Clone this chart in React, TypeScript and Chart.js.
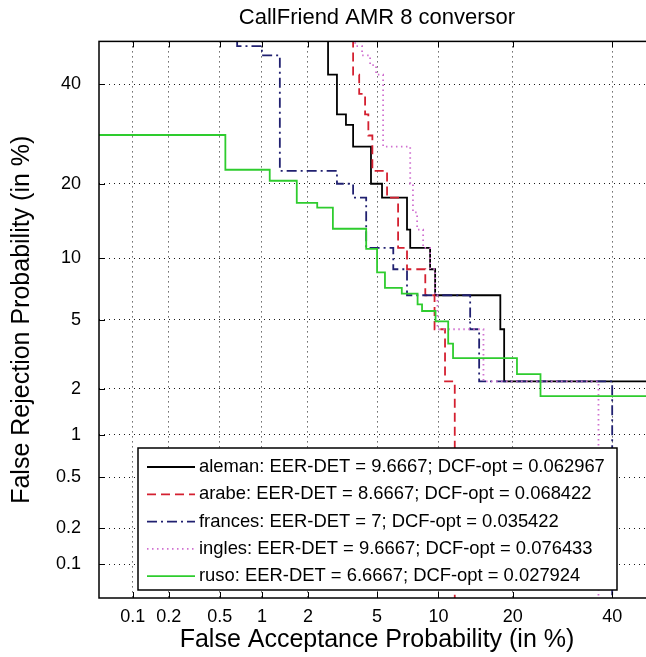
import React, { useEffect, useRef } from 'react';
import { Chart, registerables, Scale } from 'chart.js';

const TITLE = 'CallFriend AMR 8 conversor';
const X_LABEL = 'False Acceptance Probability (in %)';
const Y_LABEL = 'False Rejection Probability (in %)';
const X_TICKS = [0.1, 0.2, 0.5, 1, 2, 5, 10, 20, 40];
const Y_TICKS = [0.1, 0.2, 0.5, 1, 2, 5, 10, 20, 40];
const AXIS_MIN = 0.05;
const AXIS_MAX = 50;

const SERIES_NAMES = ['aleman', 'arabe', 'frances', 'ingles', 'ruso'];
const EER_DET = ['9.6667', '8.6667', '7', '9.6667', '6.6667'];
const DCF_OPT = ['0.062967', '0.068422', '0.035422', '0.076433', '0.027924'];

// Step points: x = false acceptance (%) where the curve drops, y = new false rejection (%)
const ALEMAN_FA = [0.05, 2.65, 2.99, 3.37, 3.7, 4.64, 5.31, 7.11, 7.37, 9.16, 9.66, 18.0, 18.6, 50];
const ALEMAN_FR = [60, 42.2, 33.3, 31.1, 26.7, 20.0, 17.8, 13.3, 11.1, 8.9, 6.67, 4.44, 2.22, 2.22];

const ARABE_FA = [0.05, 3.7, 4.0, 4.31, 4.49, 4.72, 5.64, 6.42, 7.11, 8.7, 9.6, 10.7, 11.8];
const ARABE_FR = [60, 42.2, 37.8, 33.3, 28.9, 22.2, 17.8, 11.1, 8.9, 6.67, 4.44, 2.22, 0.01];

const FRANCES_FA = [0.05, 0.67, 1.0, 1.32, 2.99, 3.7, 4.37, 6.07, 7.11, 13.7, 14.9, 40];
const FRANCES_FR = [60, 48.9, 46.7, 22.2, 20.0, 17.8, 11.1, 8.9, 6.67, 4.44, 2.22, 0.01];

const INGLES_FA = [0.05, 3.8, 4.15, 4.59, 4.94, 5.38, 7.37, 7.6, 7.96, 8.5, 9.16, 9.66, 9.9, 15.5, 36.9];
const INGLES_FR = [60, 48.9, 46.7, 44.4, 42.2, 26.7, 20.0, 15.6, 13.3, 11.1, 8.9, 6.67, 4.44, 2.22, 0.01];

const RUSO_FA = [0.05, 0.55, 1.13, 1.7, 2.28, 2.83, 4.37, 5.0, 5.5, 6.7, 8.0, 8.4, 9.7, 11.05, 11.6, 20.7, 24.9, 50];
const RUSO_FR = [29, 22.4, 20.5, 17.0, 16.3, 13.4, 11.0, 8.6, 7.25, 6.8, 6.0, 5.55, 4.9, 3.7, 3.06, 2.46, 1.8, 1.8];

const SERIES_FA = [ALEMAN_FA, ARABE_FA, FRANCES_FA, INGLES_FA, RUSO_FA];
const SERIES_FR = [ALEMAN_FR, ARABE_FR, FRANCES_FR, INGLES_FR, RUSO_FR];
const SERIES_COLORS = ['#000000', '#d42030', '#202070', '#d070d0', '#2ecc2e'];
const SERIES_DASH = [[], [9, 5], [10, 4, 2, 4], [1.5, 3.5], []];

function probit(p: number): number {
  const a = [-3.969683028665376e1, 2.209460984245205e2, -2.759285104469687e2, 1.38357751867269e2, -3.066479806614716e1, 2.506628277459239];
  const b = [-5.447609879822406e1, 1.615858368580409e2, -1.556989798598866e2, 6.680131188771972e1, -1.328068155288572e1];
  const c = [-7.784894002430293e-3, -3.223964580411365e-1, -2.400758277161838, -2.549732539343734, 4.374664141464968, 2.938163982698783];
  const d = [7.784695709041462e-3, 3.224671290700398e-1, 2.445134137142996, 3.754408661907416];
  const pl = 0.02425;
  const ph = 1 - pl;
  if (p <= 0) return -10;
  if (p >= 1) return 10;
  let q: number, r: number;
  if (p < pl) {
    q = Math.sqrt(-2 * Math.log(p));
    return (((((c[0] * q + c[1]) * q + c[2]) * q + c[3]) * q + c[4]) * q + c[5]) / ((((d[0] * q + d[1]) * q + d[2]) * q + d[3]) * q + 1);
  }
  if (p <= ph) {
    q = p - 0.5;
    r = q * q;
    return ((((((a[0] * r + a[1]) * r + a[2]) * r + a[3]) * r + a[4]) * r + a[5]) * q) / (((((b[0] * r + b[1]) * r + b[2]) * r + b[3]) * r + b[4]) * r + 1);
  }
  q = Math.sqrt(-2 * Math.log(1 - p));
  return -(((((c[0] * q + c[1]) * q + c[2]) * q + c[3]) * q + c[4]) * q + c[5]) / ((((d[0] * q + d[1]) * q + d[2]) * q + d[3]) * q + 1);
}

function normCdf(z: number): number {
  const t = 1 / (1 + 0.3275911 * Math.abs(z) / Math.SQRT2);
  const y = 1 - (((((1.061405429 * t - 1.453152027) * t) + 1.421413741) * t - 0.284496736) * t + 0.254829592) * t * Math.exp(-(z * z) / 2);
  return z >= 0 ? 0.5 * (1 + y) : 0.5 * (1 - y);
}

class ProbitScale extends (Scale as any) {
  static id = 'probit';
  static defaults = {};
  determineDataLimits() {
    this.min = AXIS_MIN;
    this.max = AXIS_MAX;
  }
  buildTicks() {
    const vals = this.isHorizontal() ? X_TICKS : Y_TICKS;
    return vals.map((v) => ({ value: v }));
  }
  getLabelForValue(v: number) {
    return String(v);
  }
  configure() {
    super.configure();
    this._pmin = probit(this.min / 100);
    this._pmax = probit(this.max / 100);
  }
  getPixelForValue(v: number) {
    const z = probit(Math.max(v, 1e-6) / 100);
    return this.getPixelForDecimal((z - this._pmin) / (this._pmax - this._pmin));
  }
  getPixelForTick(i: number) {
    return this.getPixelForValue(this.ticks[i].value);
  }
  getValueForPixel(px: number) {
    const d = this.getDecimalForPixel(px);
    return 100 * normCdf(this._pmin + d * (this._pmax - this._pmin));
  }
}

Chart.register(...registerables, ProbitScale as any);

const FONT = '"Liberation Sans", Arial, Helvetica, sans-serif';

const frameLegendPlugin = {
  id: 'frameLegend',
  afterDraw(chart: any) {
    const ctx = chart.ctx;
    const ca = chart.chartArea;
    const xs = chart.scales.x;
    const ys = chart.scales.y;
    ctx.save();
    ctx.setLineDash([]);
    ctx.strokeStyle = '#000';
    ctx.lineWidth = 1.5;
    ctx.strokeRect(ca.left, ca.top, ca.right - ca.left, ca.bottom - ca.top);
    ctx.lineWidth = 1;
    ctx.beginPath();
    const TL = 6;
    X_TICKS.forEach((v) => {
      const px = Math.round(xs.getPixelForValue(v)) + 0.5;
      ctx.moveTo(px, ca.bottom);
      ctx.lineTo(px, ca.bottom - TL);
      ctx.moveTo(px, ca.top);
      ctx.lineTo(px, ca.top + TL);
    });
    Y_TICKS.forEach((v) => {
      const py = Math.round(ys.getPixelForValue(v)) + 0.5;
      ctx.moveTo(ca.left, py);
      ctx.lineTo(ca.left + TL, py);
      ctx.moveTo(ca.right, py);
      ctx.lineTo(ca.right - TL, py);
    });
    ctx.stroke();

    // legend box
    const box = { left: 138, top: 448, right: 617, bottom: 590 };
    ctx.fillStyle = '#fff';
    ctx.fillRect(box.left, box.top, box.right - box.left, box.bottom - box.top);
    ctx.strokeStyle = '#000';
    ctx.lineWidth = 1.5;
    ctx.strokeRect(box.left, box.top, box.right - box.left, box.bottom - box.top);
    ctx.font = '18.4px ' + FONT;
    ctx.textBaseline = 'middle';
    ctx.textAlign = 'left';
    chart.data.datasets.forEach((ds: any, i: number) => {
      const y = box.top + 19 + i * 27.3;
      ctx.beginPath();
      ctx.setLineDash(ds.borderDash || []);
      ctx.strokeStyle = ds.borderColor;
      ctx.lineWidth = ds.borderWidth;
      ctx.moveTo(147, y);
      ctx.lineTo(195, y);
      ctx.stroke();
      ctx.setLineDash([]);
      ctx.fillStyle = '#000';
      ctx.fillText(ds.label, 199, y);
    });
    ctx.restore();
  },
};

export default function App() {
  const ref = useRef<HTMLCanvasElement | null>(null);
  useEffect(() => {
    if (!ref.current) return;
    Chart.defaults.font.family = FONT;
    Chart.defaults.color = '#000';
    const datasets = SERIES_NAMES.map((name, i) => ({
      label: `${name}: EER-DET = ${EER_DET[i]}; DCF-opt = ${DCF_OPT[i]}`,
      data: SERIES_FA[i].map((x, j) => ({ x, y: SERIES_FR[i][j] })),
      borderColor: SERIES_COLORS[i],
      backgroundColor: SERIES_COLORS[i],
      borderDash: SERIES_DASH[i],
      borderWidth: 1.8,
      pointRadius: 0,
      stepped: 'before' as const,
      tension: 0,
      fill: false,
      order: SERIES_NAMES.length - i,
    }));
    const gridCommon = {
      grid: { color: 'rgba(0,0,0,0.9)', lineWidth: 1, drawTicks: false },
      border: { display: false, dash: [1, 4] },
    };
    const chart = new Chart(ref.current, {
      type: 'line',
      data: { datasets },
      options: {
        responsive: false,
        maintainAspectRatio: false,
        animation: false,
        events: [],
        layout: { padding: { left: 0, right: 25, top: 0, bottom: 0 } },
        plugins: {
          legend: { display: false },
          tooltip: { enabled: false },
          title: {
            display: true,
            text: TITLE,
            fullSize: false,
            color: '#000',
            font: { size: 22, weight: 'normal' },
            padding: { top: 5, bottom: 10 },
          },
        },
        scales: {
          x: {
            type: 'probit' as any,
            axis: 'x',
            position: 'bottom',
            min: AXIS_MIN,
            max: AXIS_MAX,
            ...gridCommon,
            ticks: { autoSkip: false, maxRotation: 0, minRotation: 0, padding: 8, font: { size: 18 }, color: '#000', callback: (v: any) => String(v) },
            title: { display: true, text: X_LABEL, color: '#000', font: { size: 25 }, padding: { top: 0, bottom: 2 } },
            afterFit: (s: any) => { s.height = 59; },
          } as any,
          y: {
            type: 'probit' as any,
            axis: 'y',
            position: 'left',
            min: AXIS_MIN,
            max: AXIS_MAX,
            ...gridCommon,
            ticks: { autoSkip: false, padding: 18, font: { size: 18 }, color: '#000', callback: (v: any) => String(v) },
            title: { display: true, text: Y_LABEL, color: '#000', font: { size: 25 }, padding: { top: 7, bottom: 0 } },
            afterFit: (s: any) => { s.width = 99; },
          } as any,
        },
      } as any,
      plugins: [frameLegendPlugin],
    });
    return () => chart.destroy();
  }, []);
  return (
    <div style={{ position: 'fixed', left: 0, top: 0, width: 646, height: 657, overflow: 'hidden', background: '#fff' }}>
      <canvas ref={ref} width={680} height={657} style={{ display: 'block' }} />
    </div>
  );
}
